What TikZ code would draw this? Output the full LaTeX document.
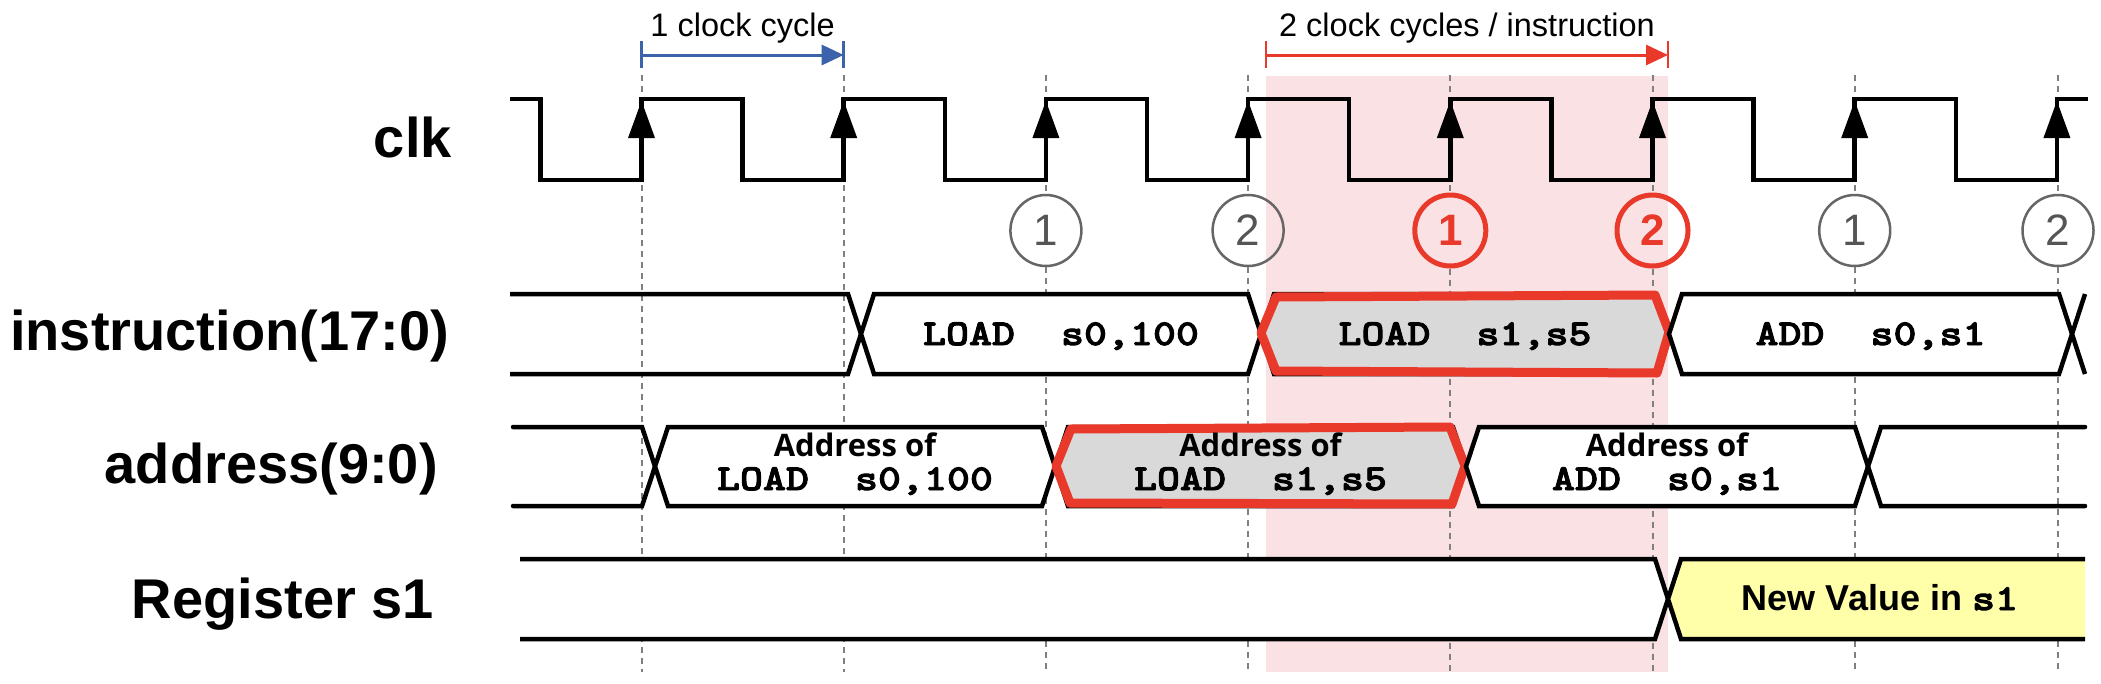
\documentclass[tikz,border=0pt]{standalone}
\usepackage{fontspec}
\setmainfont{Liberation Sans}
\newfontfamily\addrfont{Open Sans}
\newfontfamily\courb{lmmonolt10-bold.otf}[FakeStretch=1.2,FakeBold=2.5]
\usetikzlibrary{arrows.meta}
\definecolor{shadepink}{HTML}{FAE2E4}
\definecolor{hlred}{HTML}{E8392B}
\definecolor{annblue}{HTML}{3B62AA}
\definecolor{dashgray}{HTML}{808080}
\definecolor{circgray}{HTML}{666666}
\definecolor{digitgray}{HTML}{555555}
\definecolor{boxgray}{HTML}{D9D9D9}
\definecolor{newyellow}{HTML}{FFFFAA}
\newcommand\twosp{\hspace{1.26em}}
\begin{document}
\begin{tikzpicture}[x=1pt,y=-1pt,
  wave/.style={line width=4.5pt, line join=miter},
  guide/.style={dashgray, line width=2pt, dash pattern=on 6pt off 5pt},
  siglabel/.style={font=\bfseries\fontsize{56}{60}\selectfont, inner sep=0pt, anchor=base east},
  anntext/.style={font=\fontsize{32.5}{36}\selectfont, inner sep=0pt, anchor=base},
  monotext/.style={font=\courb\fontsize{36.5}{40}\selectfont, inner sep=0pt, anchor=base},
  addrtext/.style={font=\addrfont\bfseries\fontsize{31}{33}\selectfont, inner sep=0pt, anchor=base},
  gcirc/.style={circle, draw=circgray, line width=2.5pt, minimum size=71pt, inner sep=0pt, text=digitgray, font=\fontsize{44}{48}\selectfont},
  rcirc/.style={circle, draw=hlred, line width=5pt, minimum size=71pt, inner sep=0pt, text=hlred, font=\bfseries\fontsize{44}{48}\selectfont},
  redmark/.style={hlred, line width=9pt, line join=round},
  clkarrow/.style={fill=black}
]
\useasboundingbox (0,0) rectangle (2101,683);
\fill[white] (0,0) rectangle (2101,683);

% highlighted region
\fill[shadepink] (1266,76) rectangle (1668,672);

% circles at clock edges
\node[gcirc] (c2) at (1045.9,230.5) {1};
\node[gcirc] (c3) at (1248.1,230.5) {2};
\node[rcirc] (c4) at (1450.3,230.5) {1};
\node[rcirc] (c5) at (1652.5,230.5) {2};
\node[gcirc] (c6) at (1854.7,230.5) {1};
\node[gcirc] (c7) at (2058,230.5) {2};

% dashed guide lines
\coordinate (g0t) at (641.5,75); \coordinate (g0b) at (641.5,672);
\coordinate (g1t) at (843.7,75); \coordinate (g1b) at (843.7,672);
\draw[guide] (g0t) -- (g0b);
\draw[guide] (g1t) -- (g1b);
\foreach \k/\x in {2/1045.9,3/1248.1,4/1450.3,5/1652.5,6/1854.7,7/2058}{
  \draw[guide] (\x,75) -- (c\k.north);
  \draw[guide] (c\k.south) -- (\x,672);
}

% clock
\draw[wave] (510,99) -- (540.4,99) -- (540.4,180) -- (641.5,180) -- (641.5,99)
  -- (742.6,99) -- (742.6,180) -- (843.7,180) -- (843.7,99)
  -- (944.8,99) -- (944.8,180) -- (1045.9,180) -- (1045.9,99)
  -- (1147,99) -- (1147,180) -- (1248.1,180) -- (1248.1,99)
  -- (1349.2,99) -- (1349.2,180) -- (1450.3,180) -- (1450.3,99)
  -- (1551.4,99) -- (1551.4,180) -- (1652.5,180) -- (1652.5,99)
  -- (1753.6,99) -- (1753.6,180) -- (1854.7,180) -- (1854.7,99)
  -- (1955.8,99) -- (1955.8,180) -- (2056.9,180) -- (2056.9,99) -- (2088,99);
\foreach \x in {641.5,843.7,1045.9,1248.1,1450.3,1652.5,1854.7,2056.9}{
  \fill[clkarrow] (\x,101) -- (\x-13.5,138) -- (\x+13.5,138) -- cycle;
}

% top annotations
\coordinate (b1l) at (641.5,55); \coordinate (b1r) at (843.7,55);
\draw[annblue, line width=2.5pt] (641.5,41) -- (641.5,68);
\draw[annblue, line width=2.5pt] (843.7,41) -- (843.7,68);
\draw[annblue, line width=3pt, -{Triangle[length=22pt,width=20pt]}] (b1l) -- (b1r);
\node[anntext] (t1) at (742.6,36) {1 clock cycle};

\coordinate (b2l) at (1266,55); \coordinate (b2r) at (1668,55);
\draw[hlred, line width=2.5pt] (1266,41) -- (1266,68);
\draw[hlred, line width=2.5pt] (1668,41) -- (1668,68);
\draw[hlred, line width=3pt, -{Triangle[length=22pt,width=20pt]}] (b2l) -- (b2r);
\node[anntext] (t2) at (1467,36) {2 clock cycles / instruction};

% instruction bus
\draw[wave] (510,294) -- (848,294) -- (861,334) -- (848,374) -- (510,374);
\draw[wave, fill=white] (861,334) -- (874,294) -- (1248,294) -- (1261,334) -- (1248,374) -- (874,374) -- cycle;
\draw[wave, fill=boxgray] (1261,334) -- (1274,294) -- (1656,294) -- (1669,334) -- (1656,374) -- (1274,374) -- cycle;
\draw[redmark] (1261,333) -- (1276,297) -- (1655,295) -- (1669,332) -- (1657,373) -- (1276,371) -- cycle;
\draw[wave, fill=white] (1669,334) -- (1682,294) -- (2059,294) -- (2072,334) -- (2059,374) -- (1682,374) -- cycle;
\draw[wave] (2085,294) -- (2072,334) -- (2085,374);
\node[monotext] (i1) at (1061,345) {LOAD\twosp s0,100};
\node[monotext] (i2) at (1465,345) {LOAD\twosp s1,s5};
\node[monotext] (i3) at (1870.5,345) {ADD\twosp s0,s1};

% address bus
\draw[wave, line cap=round] (513,427) -- (642,427) -- (655,466.5) -- (642,506) -- (513,506);
\draw[wave, fill=white] (655,466.5) -- (668,427) -- (1042,427) -- (1055,466.5) -- (1042,506) -- (668,506) -- cycle;
\draw[wave, fill=boxgray] (1055,466.5) -- (1068,427) -- (1453,427) -- (1466,466.5) -- (1453,506) -- (1068,506) -- cycle;
\draw[redmark] (1056,466) -- (1071,429) -- (1450,427) -- (1465,466) -- (1452,504) -- (1070,503) -- cycle;
\draw[wave, fill=white] (1466,466.5) -- (1479,427) -- (1855,427) -- (1868,466.5) -- (1855,506) -- (1479,506) -- cycle;
\draw[wave, line cap=round] (2085,427) -- (1881,427) -- (1868,466.5) -- (1881,506) -- (2085,506);
\node[addrtext] (a1t) at (855,456.7) {Address of};
\node[monotext] (a1b) at (855,490) {LOAD\twosp s0,100};
\node[addrtext] (a2t) at (1260.5,456.7) {Address of};
\node[monotext] (a2b) at (1260.5,490) {LOAD\twosp s1,s5};
\node[addrtext] (a3t) at (1667,456.7) {Address of};
\node[monotext] (a3b) at (1667,490) {ADD\twosp s0,s1};

% register s1
\fill[white] (520,559) -- (1655,559) -- (1668,599) -- (1655,639) -- (520,639) -- cycle;
\draw[wave] (520,559) -- (1655,559) -- (1668,599) -- (1655,639) -- (520,639);
\fill[newyellow] (2085,559) -- (1681,559) -- (1668,599) -- (1681,639) -- (2085,639) -- cycle;
\draw[wave] (2085,559) -- (1681,559) -- (1668,599) -- (1681,639) -- (2085,639);
\node[inner sep=0pt, anchor=base, font=\bfseries\fontsize{36}{40}\selectfont] (r1) at (1880,610) {New Value in {\courb\fontsize{36.5}{40}\selectfont s1}};

% signal labels
\node[siglabel] (lclk) at (452,157) {clk};
\node[siglabel] (linst) at (449,350) {instruction(17:0)};
\node[siglabel] (laddr) at (438,483) {address(9:0)};
\node[siglabel] (lreg) at (434,618) {Register s1};
\end{tikzpicture}
\end{document}
